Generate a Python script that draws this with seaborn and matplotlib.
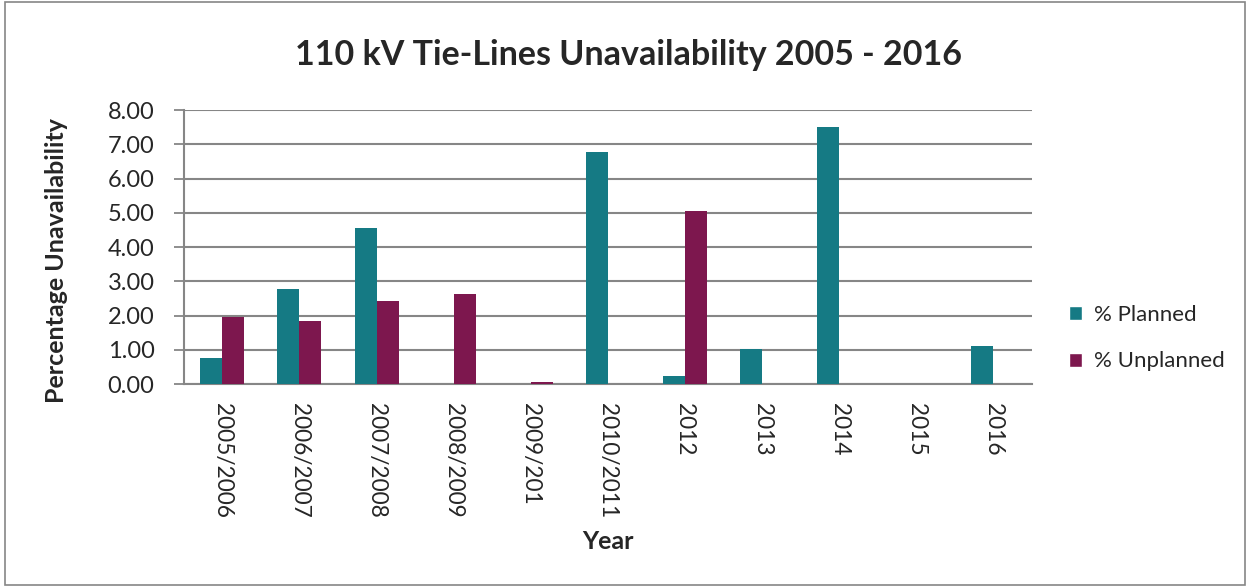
import numpy as np
import pandas as pd
import matplotlib
matplotlib.use("Agg")
import matplotlib.pyplot as plt
import seaborn as sns
from matplotlib.patches import Rectangle

# Data
years = ["2005/2006", "2006/2007", "2007/2008", "2008/2009", "2009/201",
         "2010/2011", "2012", "2013", "2014", "2015", "2016"]
planned = [0.77, 2.76, 4.56, 0.0, 0.0, 6.76, 0.22, 1.03, 7.50, 0.0, 1.10]
unplanned = [1.95, 1.83, 2.43, 2.64, 0.06, 0.0, 5.06, 0.0, 0.0, 0.0, 0.0]
series_names = ["% Planned", "% Unplanned"]
colors = ["#157A84", "#7D174E"]

df = pd.DataFrame({"Year": years, series_names[0]: planned, series_names[1]: unplanned})
df = df.melt(id_vars="Year", var_name="Series", value_name="Value")

sns.set_style("white")
plt.rcParams["font.family"] = ["Lato", "DejaVu Sans"]

fig = plt.figure(figsize=(12.5, 5.87), dpi=100)
ax = fig.add_axes([0.147, 0.3458, 0.6786, 0.4668])

sns.barplot(data=df, x="Year", y="Value", hue="Series", order=years,
            hue_order=series_names, palette=colors, width=0.57,
            saturation=1, ax=ax, legend=True)
# keep the tiny non-zero bars visible above the axis line
for bar in ax.patches:
    if bar.get_height() > 0:
        bar.set_zorder(3)
        bar.set_linewidth(0)

ax.set_ylim(0, 8)
ax.set_yticks(np.arange(0, 9, 1))
ax.set_yticklabels([f"{v:.2f}" for v in np.arange(0, 9, 1)], fontsize=17)
ax.set_xlim(-0.5, len(years) - 0.5)
ax.set_xticks(range(len(years)))
ax.set_xticklabels(years, rotation=-90, fontsize=16.3, va="top")
ax.tick_params(axis="x", length=0, pad=14)
ax.tick_params(axis="y", length=7, width=1.3, color="#868686", direction="out", left=True, pad=14)

ax.yaxis.grid(True, color="#868686", linewidth=1.5)
ax.set_axisbelow(True)
for side in ["top", "right"]:
    ax.spines[side].set_visible(False)
for side in ["left", "bottom"]:
    ax.spines[side].set_color("#868686")
    ax.spines[side].set_linewidth(1.5)

ax.set_xlabel("Year", fontsize=18, fontweight="bold", labelpad=8)
ax.set_ylabel("Percentage Unavailability", fontsize=18, fontweight="bold")
ax.yaxis.set_label_coords(-0.137, 0.45)

fig.suptitle("110 kV Tie-Lines Unavailability 2005 - 2016", x=0.503, y=0.906,
             fontsize=24.5, fontweight="bold", va="center")

handles, labels = ax.get_legend_handles_labels()
ax.get_legend().remove()
fig.legend(handles, labels, loc="center left", bbox_to_anchor=(0.839, 0.424),
           frameon=False, fontsize=16, handlelength=0.6, handleheight=0.6,
           handletextpad=0.55, labelspacing=1.2)

# outer chart border
fig.patches.append(Rectangle((0.004, 0.004), 0.992, 0.992, transform=fig.transFigure,
                             fill=False, edgecolor="#868686", linewidth=1.2))

fig.savefig("out.png", dpi=100)
